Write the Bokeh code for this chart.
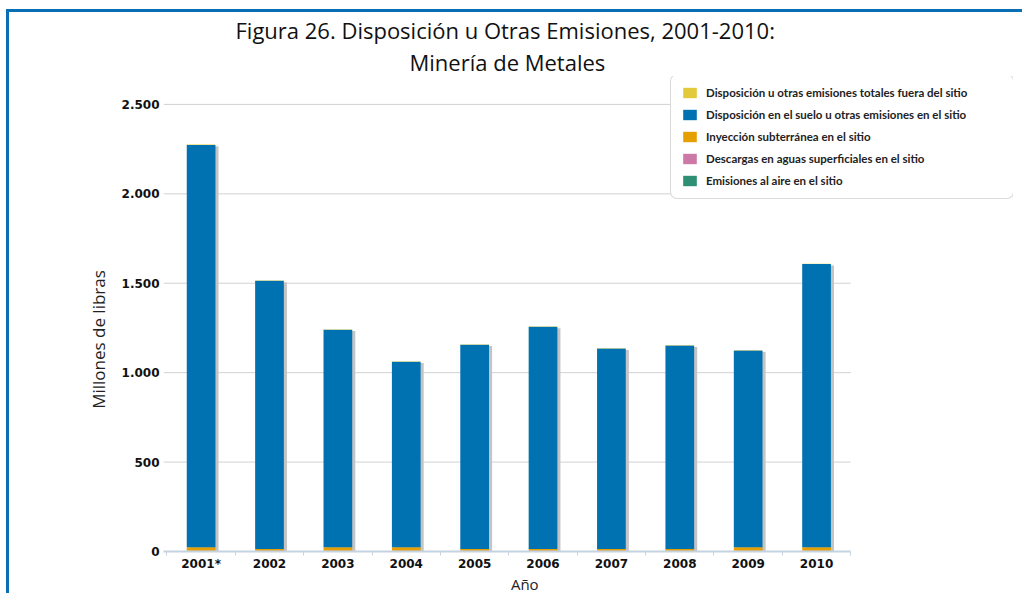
from bokeh.plotting import figure
from bokeh.models import ColumnDataSource, Range1d, FixedTicker, Legend, LegendItem, Title
from bokeh.transform import dodge
from bokeh.embed import file_html
from bokeh.resources import INLINE

# ---- data (millions of pounds) ----
years = ["2001*", "2002", "2003", "2004", "2005", "2006", "2007", "2008", "2009", "2010"]
air = [3, 3, 3, 3, 3, 3, 3, 3, 3, 3]
water = [0.5, 0.5, 0.5, 0.5, 0.5, 0.5, 0.5, 0.5, 0.5, 0.5]
injection = [20, 10, 20, 20, 10, 10, 10, 10, 20, 20]
land = [2250, 1500, 1217, 1038, 1143, 1243, 1121, 1138, 1100, 1584]
offsite = [2, 2, 2, 2, 2, 2, 2, 2, 2, 2]

series_names = [
    "Emisiones al aire en el sitio",
    "Descargas en aguas superficiales en el sitio",
    "Inyección subterránea en el sitio",
    "Disposición en el suelo u otras emisiones en el sitio",
    "Disposición u otras emisiones totales fuera del sitio",
]
series_keys = ["air", "water", "injection", "land", "offsite"]
colors = ["#2E8F74", "#CC79A7", "#E69F00", "#0072B2", "#E2CA3A"]

y_ticks = [0, 500, 1000, 1500, 2000, 2500]
y_tick_labels = ["0", "500", "1.000", "1.500", "2.000", "2.500"]

title_line1 = "Figura 26. Disposición u Otras Emisiones, 2001-2010:"
title_line2 = "Minería de Metales"
x_title = "Año"
y_title = "Millones de libras"

x = [i + 1 for i in range(len(years))]
totals = [a + b + c + d + e for a, b, c, d, e in zip(air, water, injection, land, offsite)]
x_lo, x_hi = 0.45, 10.5

src = ColumnDataSource(dict(
    x=x, air=air, water=water, injection=injection, land=land, offsite=offsite,
    shadow_top=[t - 10 for t in totals],
))

p = figure(
    width=1016, height=584,
    x_range=Range1d(x_lo, 12.88), y_range=Range1d(0, 2656),
    output_backend="svg", toolbar_location=None,
    min_border_left=154, min_border_right=12, min_border_top=64, min_border_bottom=43,
)
p.styles = {"border-left": "3px solid #0A6EB4", "border-top": "3px solid #0A6EB4",
            "margin-left": "6px", "margin-top": "9px"}
p.outline_line_color = None
p.background_fill_color = "white"
p.border_fill_color = "white"

# titles: the later-added title sits closer to the plot
p.title.text = title_line1
p.title.align = "left"
p.title.offset = 72
p.title.standoff = 0
p.title.text_font = "Open Sans"
p.title.text_font_size = "22px"
p.title.text_font_style = "normal"
p.title.text_color = "#111111"
t2 = Title(text=title_line2, align="left", offset=246, standoff=0,
           text_font="Open Sans", text_font_size="22px", text_font_style="normal",
           text_color="#111111")
p.add_layout(t2, "above")

# horizontal grid lines limited to the bar area
p.segment(x0=x_lo, x1=x_hi, y0=y_ticks[1:], y1=y_ticks[1:], line_color="#d2d2d2",
          line_width=1, level="underlay")

# shadow behind bars
p.vbar(x=dodge("x", 0.045, range=p.x_range), top="shadow_top", bottom=0, width=0.42,
       source=src, fill_color="#c4c4c4", line_color=None)

renderers = p.vbar_stack(series_keys, x="x", width=0.42, color=colors, line_color=None,
                         source=src)

items = [LegendItem(label=series_names[i], renderers=[renderers[i]]) for i in range(len(series_keys))][::-1]
legend = Legend(items=items, location=(507, 352))
legend.label_text_font = "Lato"
legend.label_text_font_size = "11.5px"
legend.label_text_font_style = "bold"
legend.label_text_color = "#222222"
legend.glyph_width = 17
legend.glyph_height = 13
legend.label_height = 15
legend.label_width = 297
legend.label_standoff = 8
legend.spacing = 7
legend.padding = 10
legend.margin = 0
legend.border_line_color = "#b5b5b5"
legend.border_line_width = 1
legend.background_fill_alpha = 1
if "border_radius" in Legend.properties():
    legend.border_radius = 7
p.add_layout(legend, "center")

# y axis (em spaces keep the label centred on the bar area, as in the original)
yax = p.yaxis[0]
yax.ticker = FixedTicker(ticks=y_ticks)
yax.major_label_overrides = {v: l for v, l in zip(y_ticks, y_tick_labels)}
yax.axis_line_color = None
yax.major_tick_line_color = None
yax.major_tick_out = 0
yax.minor_tick_line_color = None
yax.major_label_standoff = 4
yax.major_label_text_font = "DejaVu Sans"
yax.major_label_text_font_style = "bold"
yax.major_label_text_font_size = "12px"
yax.major_label_text_color = "#111111"
yax.axis_label = y_title + "\u2003" * 3
yax.axis_label_text_font = "Open Sans"
yax.axis_label_text_font_size = "17px"
yax.axis_label_text_font_style = "normal"
yax.axis_label_text_color = "#222222"
yax.axis_label_standoff = 9

# x axis
xax = p.xaxis[0]
xax.bounds = (x_lo, x_hi)
xax.ticker = FixedTicker(ticks=x, minor_ticks=[i + 0.5 for i in range(len(years) + 1)])
xax.major_label_overrides = {xi: y for xi, y in zip(x, years)}
xax.axis_line_color = "#c5d2e0"
xax.axis_line_width = 2
xax.major_tick_line_color = None
xax.major_tick_out = 0
xax.major_tick_in = 0
xax.minor_tick_line_color = "#c8d3df"
xax.minor_tick_out = 4
xax.minor_tick_in = 0
xax.major_label_standoff = 1
xax.major_label_text_font = "DejaVu Sans"
xax.major_label_text_font_style = "bold"
xax.major_label_text_font_size = "12px"
xax.major_label_text_color = "#111111"
xax.axis_label = x_title + "\u2003" * 8 + "\u2002"
xax.axis_label_text_font = "Open Sans"
xax.axis_label_text_font_size = "15px"
xax.axis_label_text_font_style = "normal"
xax.axis_label_text_color = "#222222"
xax.axis_label_standoff = 0

p.xgrid.grid_line_color = None
p.ygrid.grid_line_color = None

open("out.html", "w").write(file_html(p, INLINE))
